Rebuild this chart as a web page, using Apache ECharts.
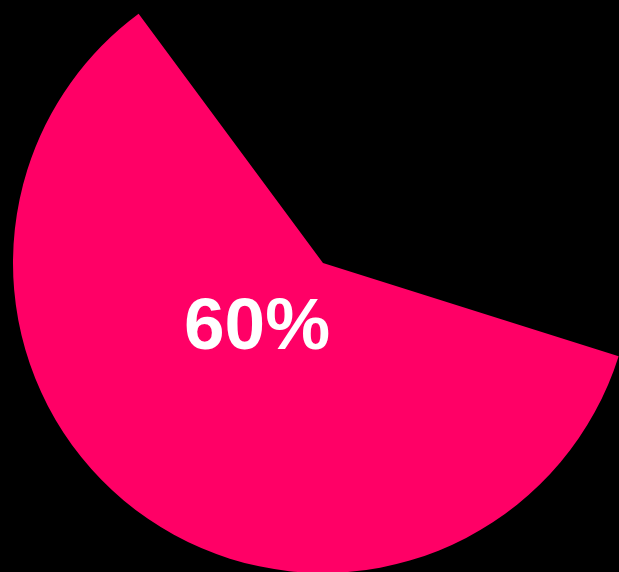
<!DOCTYPE html>
<html>
<head>
<meta charset="utf-8">
<script src="https://cdn.jsdelivr.net/npm/echarts@6/dist/echarts.min.js"></script>
<style>
html,body{margin:0;padding:0;background:#000;}
#main{width:619px;height:572px;}
</style>
</head>
<body>
<div id="main"></div>
<script>
var categories = ['Filled', 'Remaining'];
var values = [60, 40];
var labelText = '60%';

var chart = echarts.init(document.getElementById('main'));
chart.setOption({
  backgroundColor: '#000000',
  animation: false,
  graphic: [{
    type: 'text',
    left: 184,
    top: 292,
    z: 100,
    style: {
      text: labelText,
      fill: '#ffffff',
      font: 'bold 73px "Liberation Sans", Arial, sans-serif'
    }
  }],
  series: [{
    type: 'pie',
    center: [323, 263],
    radius: [0, 310],
    startAngle: 342.5,
    clockwise: true,
    silent: true,
    label: { show: false },
    labelLine: { show: false },
    data: [
      { name: categories[0], value: values[0], itemStyle: { color: '#ff0066' } },
      { name: categories[1], value: values[1], itemStyle: { color: 'rgba(0,0,0,0)' } }
    ]
  }]
});
</script>
</body>
</html>
